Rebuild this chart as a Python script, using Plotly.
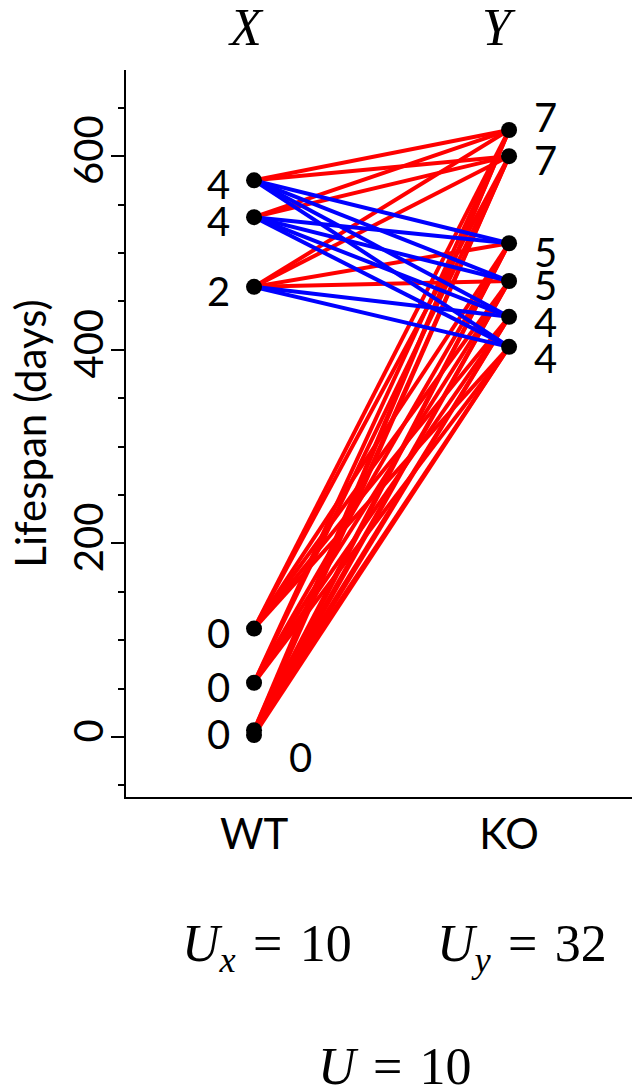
import plotly.graph_objects as go

groups = ["WT", "KO"]
wt_days = [575, 537, 465, 112, 56, 7, 2]
ko_days = [627, 600, 510, 471, 434, 403]
# label offsets (pixels) to keep labels from overlapping
wt_label_dx = [-36, -36, -36, -36, -36, -36, 46]
wt_label_dy = [4, 4, 4, 4, 4, 4, 22]
ko_label_dy = [-13, 4, 9, 4, 5, 11]

wt_labels = [sum(1 for k in ko_days if k < w) for w in wt_days]
ko_labels = [sum(1 for w in wt_days if w < k) for k in ko_days]
u_x = sum(wt_labels)
u_y = sum(ko_labels)
u_min = min(u_x, u_y)

red_x, red_y, blue_x, blue_y = [], [], [], []
for w in wt_days:
    for k in ko_days:
        if k > w:
            red_x += [0, 1, None]; red_y += [w, k, None]
        else:
            blue_x += [0, 1, None]; blue_y += [w, k, None]

fig = go.Figure()
fig.add_trace(go.Scatter(x=red_x, y=red_y, mode="lines",
                         line=dict(color="#FF0000", width=4), hoverinfo="skip"))
fig.add_trace(go.Scatter(x=blue_x, y=blue_y, mode="lines",
                         line=dict(color="#0000FF", width=4), hoverinfo="skip"))
fig.add_trace(go.Scatter(x=[0] * len(wt_days) + [1] * len(ko_days),
                         y=wt_days + ko_days, mode="markers",
                         marker=dict(color="black", size=16)))

label_font = dict(family="Lato", size=40, color="black")
ann = []
for w, lab, dx, dy in zip(wt_days, wt_labels, wt_label_dx, wt_label_dy):
    ann.append(dict(x=0, y=w, xref="x", yref="y", text=str(lab), showarrow=False,
                    xshift=dx, yshift=-dy, font=label_font))
for k, lab, dy in zip(ko_days, ko_labels, ko_label_dy):
    ann.append(dict(x=1, y=k, xref="x", yref="y", text=str(lab), showarrow=False,
                    xshift=36, yshift=-dy, font=label_font))

math_font = dict(family="Liberation Serif", size=52, color="black")
sp = "&#8196;"
ann.append(dict(x=0, y=1.058, xref="x", yref="paper", text="<i>X</i>", showarrow=False,
                xshift=-8, yanchor="middle", font=math_font))
ann.append(dict(x=1, y=1.058, xref="x", yref="paper", text="<i>Y</i>", showarrow=False,
                xshift=-10, yanchor="middle", font=math_font))
ann.append(dict(x=0.05, y=-0.2077, xref="x", yref="paper", yanchor="middle",
                text=f"<i>U</i><sub><i>x</i></sub>{sp}={sp}{u_x}", showarrow=False, font=math_font))
ann.append(dict(x=1.05, y=-0.2077, xref="x", yref="paper", yanchor="middle",
                text=f"<i>U</i><sub><i>y</i></sub>{sp}={sp}{u_y}", showarrow=False, font=math_font))
ann.append(dict(x=0.553, y=-0.371, xref="x", yref="paper", yanchor="middle",
                text=f"<i>U</i>{sp}={sp}{u_min}", showarrow=False, font=math_font))

fig.update_layout(
    width=632, height=1087,
    margin=dict(l=126, r=0, t=70, b=290),
    paper_bgcolor="white", plot_bgcolor="white",
    showlegend=False,
    annotations=ann,
    xaxis=dict(range=[-0.502, 1.482], tickvals=[0, 1], ticktext=groups,
               showline=True, linecolor="black", linewidth=2, ticks="",
               showgrid=False, zeroline=False,
               tickfont=dict(family="Lato", size=42, color="black")),
    yaxis=dict(range=[-62, 689], tickvals=[0, 200, 400, 600],
               showline=True, linecolor="black", linewidth=2,
               ticks="outside", ticklen=13, tickwidth=2, tickcolor="black",
               minor=dict(dtick=50, ticks="outside", ticklen=6, tickwidth=2, tickcolor="black"),
               tickangle=-90, showgrid=False, zeroline=False, ticklabelstandoff=-8,
               tickfont=dict(family="Lato", size=40, color="black"),
               title=dict(text="Lifespan (days)", standoff=4,
                          font=dict(family="Lato", size=42, color="black"))),
)
fig.write_html("out.html")
